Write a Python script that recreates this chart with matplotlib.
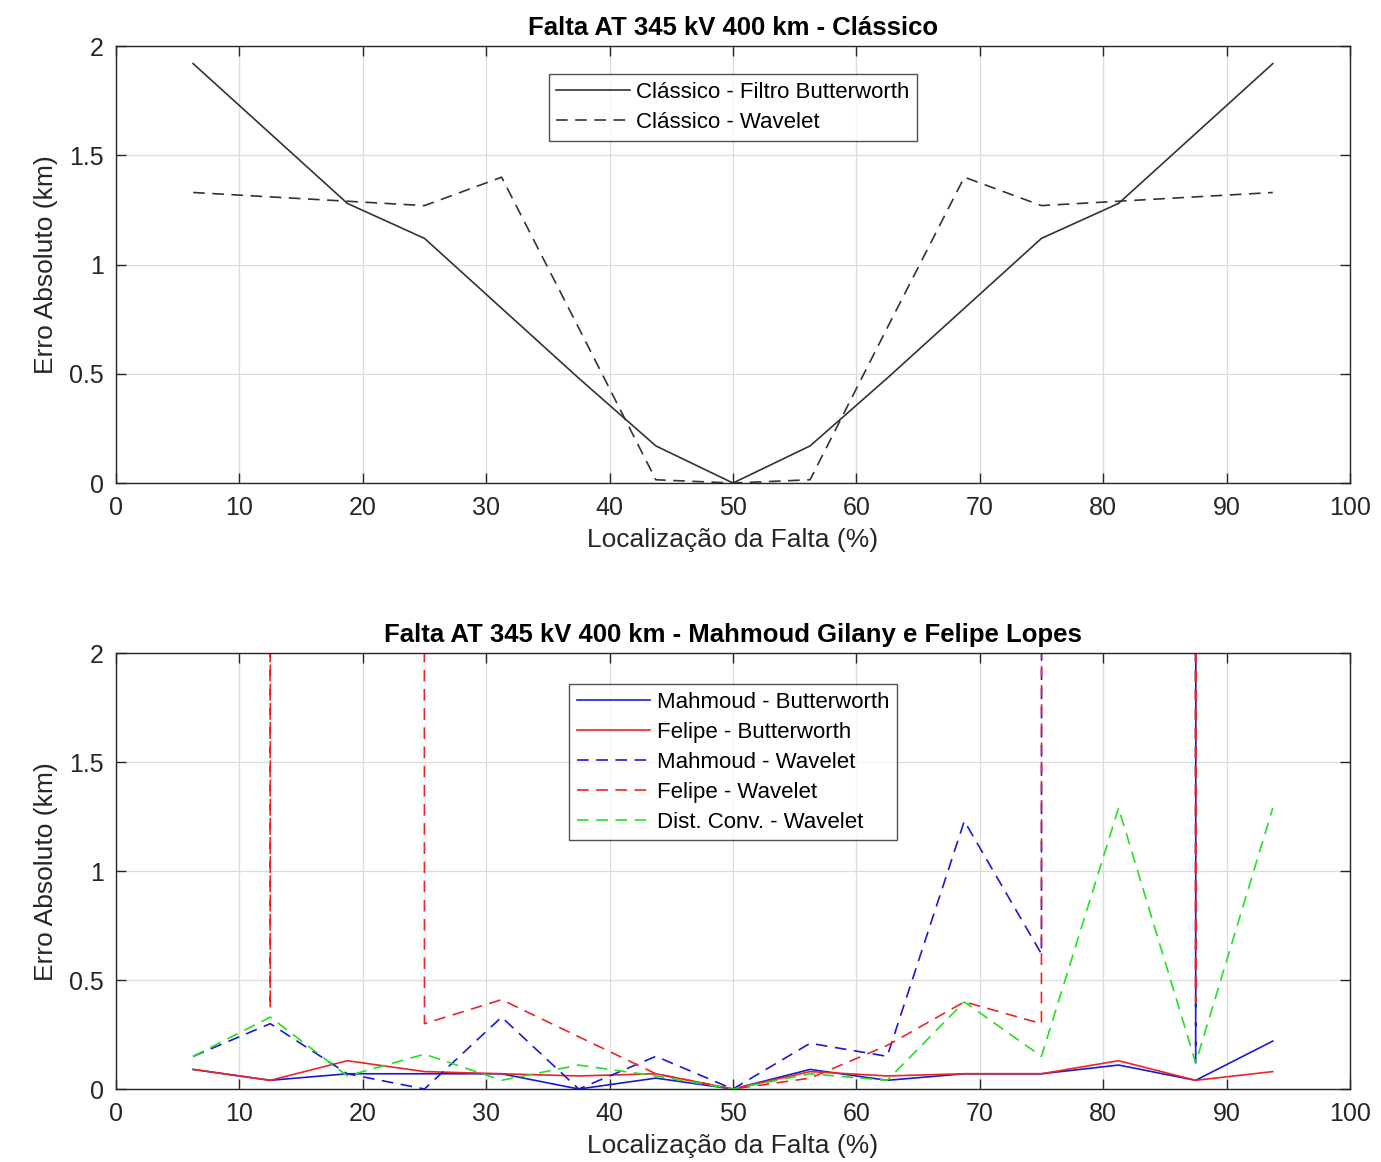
import matplotlib
matplotlib.use("Agg")
import matplotlib.pyplot as plt

plt.rcParams['font.family'] = ['Liberation Sans', 'DejaVu Sans']

# fault location (%) - 15 points along the line
local = [6.25, 12.5, 18.75, 25, 31.25, 37.5, 43.75, 50,
         56.25, 62.5, 68.75, 75, 81.25, 87.5, 93.75]

# top chart: classic method
classico_butter = [1.92, 1.60, 1.28, 1.12, 0.80, 0.48, 0.17, 0.0,
                   0.17, 0.48, 0.80, 1.12, 1.28, 1.60, 1.92]
classico_wavelet = [1.33, 1.31, 1.29, 1.27, 1.40, 0.71, 0.015, 0.0,
                    0.015, 0.71, 1.40, 1.27, 1.29, 1.31, 1.33]

# bottom chart (values above 2 km go far off the scale)
mahmoud_butter = [0.09, 0.04, 0.07, 0.07, 0.07, 0.0, 0.05, 0.0,
                  0.09, 0.04, 0.07, 0.07, 0.11, 0.04, 0.22]
felipe_butter = [0.09, 0.04, 0.13, 0.08, 0.07, 0.06, 0.07, 0.0,
                 0.08, 0.06, 0.07, 0.07, 0.13, 0.04, 0.08]
mahmoud_wavelet = [0.15, 0.30, 0.07, 0.0, 0.33, 0.0, 0.15, 0.0,
                   0.21, 0.15, 1.23, 0.62, 1000.0, 0.12, 1000.0]
felipe_wavelet = [1000.0, 0.37, 1000.0, 0.30, 0.41, 0.24, 0.07, 0.0,
                  0.05, 0.20, 0.40, 0.30, 1000.0, 0.40, 1000.0]
dist_wavelet = [0.15, 0.33, 0.06, 0.16, 0.04, 0.11, 0.06, 0.0,
                0.07, 0.04, 0.40, 0.15, 1.29, 0.12, 1.29]

fig = plt.figure(figsize=(13.81, 11.62), dpi=100)
ax1 = fig.add_axes([0.084, 0.5843, 0.8935, 0.376])
ax2 = fig.add_axes([0.084, 0.0628, 0.8935, 0.375])

dash = (0, (7, 4.5))

ax1.plot(local, classico_butter, color='#333333', lw=1.2,
         label='Clássico - Filtro Butterworth')
ax1.plot(local, classico_wavelet, color='#333333', lw=1.2, linestyle=dash,
         label='Clássico - Wavelet')

ax2.plot(local, mahmoud_butter, color='#1a1ad0', lw=1.2, label='Mahmoud - Butterworth')
ax2.plot(local, felipe_butter, color='#e8262a', lw=1.2, label='Felipe - Butterworth')
ax2.plot(local, mahmoud_wavelet, color='#1a1ad0', lw=1.2, linestyle=dash,
         label='Mahmoud - Wavelet')
ax2.plot(local, felipe_wavelet, color='#e8262a', lw=1.2, linestyle=dash,
         label='Felipe - Wavelet')
ax2.plot(local, dist_wavelet, color='#22e022', lw=1.2, linestyle=dash,
         label='Dist. Conv. - Wavelet')

titles = ['Falta AT 345 kV 400 km - Clássico',
          'Falta AT 345 kV 400 km - Mahmoud Gilany e Felipe Lopes']
anchors = [0.936, 0.929]
for ax, title, anc in zip([ax1, ax2], titles, anchors):
    ax.set_xlim(0, 100)
    ax.set_ylim(0, 2)
    ax.set_xticks(range(0, 101, 10))
    ax.set_yticks([0, 0.5, 1, 1.5, 2])
    ax.set_yticklabels(['0', '0.5', '1', '1.5', '2'])
    ax.grid(True, color='#dcdcdc', lw=0.9)
    ax.set_axisbelow(True)
    ax.tick_params(direction='in', top=True, right=True, labelsize=18,
                   length=7, width=1.0, colors='#262626', pad=9)
    for sp in ax.spines.values():
        sp.set_color('#262626')
        sp.set_linewidth(1.0)
    ax.set_xlabel('Localização da Falta (%)', fontsize=19, color='#262626', labelpad=6)
    ax.set_ylabel('Erro Absoluto (km)', fontsize=19, color='#262626', labelpad=8)
    ax.set_title(title, fontsize=18.5, fontweight='bold', pad=8)
    leg = ax.legend(loc='upper center', bbox_to_anchor=(0.5, anc), fontsize=16,
                    frameon=True, fancybox=False, edgecolor='#262626',
                    handlelength=3.3, handletextpad=0.3, borderpad=0.35,
                    labelspacing=0.4, borderaxespad=0)
    leg.get_frame().set_linewidth(1.0)

fig.savefig('out.png', dpi=100)
